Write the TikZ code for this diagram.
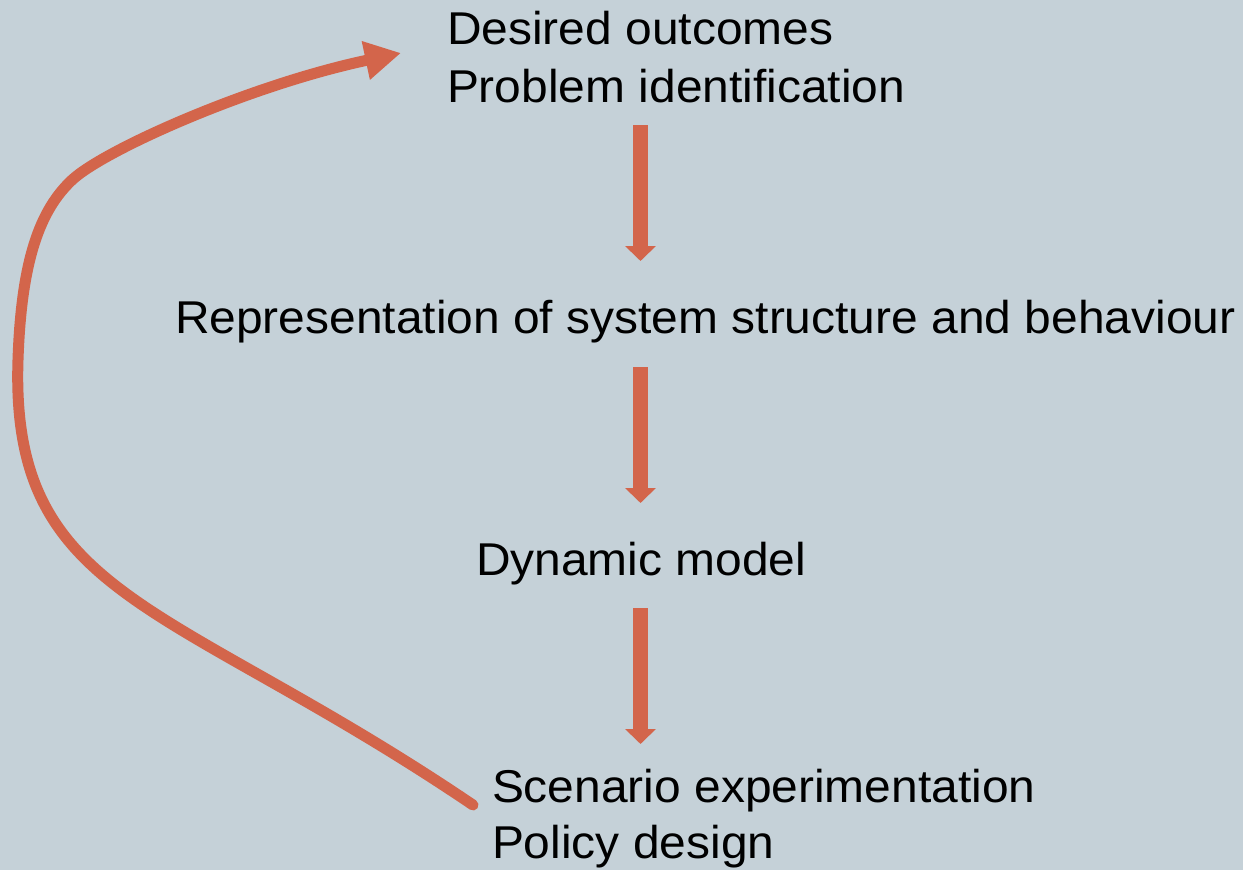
\documentclass[tikz,border=0pt]{standalone}
\usepackage{fontspec}
\setmainfont[FakeStretch=1.042]{Liberation Sans}
\usetikzlibrary{arrows.meta}
\definecolor{bgc}{RGB}{197,209,216}
\definecolor{arrc}{RGB}{211,101,75}
\begin{document}
\begin{tikzpicture}[x=1pt,y=-1pt,
  txt/.style={inner sep=0pt, outer sep=0pt, anchor=base west, font=\fontsize{46}{54}\selectfont, text=black},
  downarrow/.style={draw=arrc, line width=15pt, -{Triangle[length=15pt,width=30pt]}},
  looparrow/.style={draw=arrc, line width=11pt, line cap=round, -{Triangle[length=36pt,width=37pt]}}]
\fill[bgc] (0,0) rectangle (1243,870);
\useasboundingbox (0,0) rectangle (1243,870);

\node[txt] (des) at (447,44) {Desired outcomes};
\node[txt] (prob) at (447,102) {Problem identification};
\node[txt] (rep) at (175,333) {Representation of system structure and behaviour};
\node[txt] (dyn) at (476,575) {Dynamic model};
\node[txt] (scen) at (492,802) {Scenario experimentation};
\node[txt] (pol) at (492,858) {Policy design};

\coordinate (a1s) at (640.5,125);
\coordinate (a1e) at (640.5,261);
\coordinate (a2s) at (640.5,367);
\coordinate (a2e) at (640.5,503);
\coordinate (a3s) at (640.5,608);
\coordinate (a3e) at (640.5,744);
\draw[downarrow] (a1s) -- (a1e);
\draw[downarrow] (a2s) -- (a2e);
\draw[downarrow] (a3s) -- (a3e);

\coordinate (tail) at (473,805);
\coordinate (tip) at (401,53);
\draw[looparrow] (tail) .. controls (170,600) and (10,600) .. (18,360)
  .. controls (21.3,260) and (40,210) .. (72,180)
  .. controls (104,150) and (250,85) .. (tip);
\end{tikzpicture}
\end{document}
